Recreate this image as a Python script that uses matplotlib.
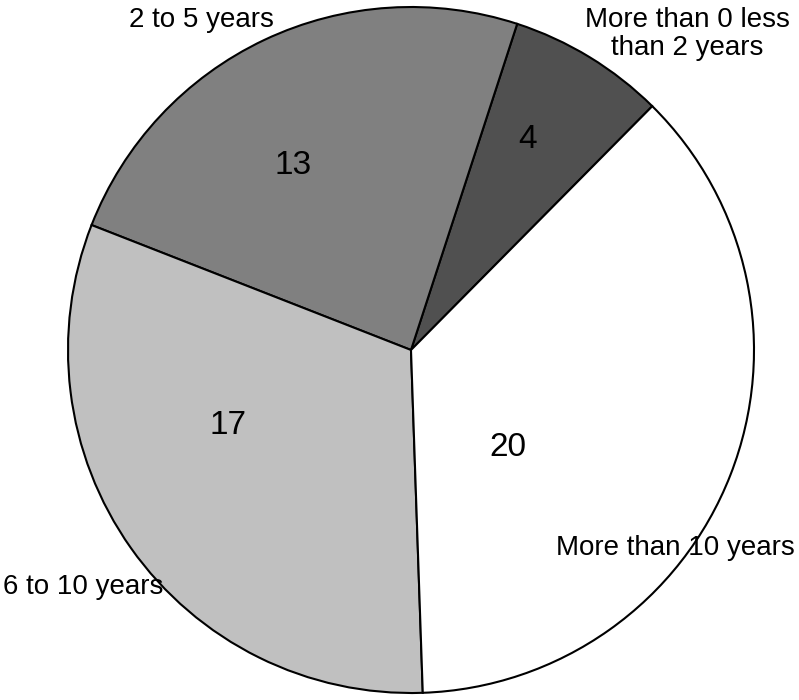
import matplotlib
matplotlib.use("Agg")
import matplotlib.pyplot as plt

categories = ["More than 0 less\nthan 2 years", "2 to 5 years", "6 to 10 years", "More than 10 years"]
values = [4, 13, 17, 20]
colors = ["#505050", "#808080", "#c0c0c0", "#ffffff"]

plt.rcParams['font.family'] = ['Liberation Sans', 'DejaVu Sans']

W, H = 799, 700
fig = plt.figure(figsize=(W / 100, H / 100), dpi=100)
ax = fig.add_axes([0, 0, 1, 1])

cx, cy, R = 411, 350, 343
ax.pie(values, colors=colors, startangle=45.3, counterclock=True,
       center=(cx, cy), radius=R, frame=True,
       wedgeprops=dict(edgecolor='black', linewidth=1.5))
ax.set_xlim(0, W)
ax.set_ylim(0, H)
ax.set_aspect('equal')
ax.axis('off')

# value label positions (pixel coords, y from top)
value_pos = [(528, 139), (293, 165), (228, 425), (508, 447)]
for v, (x, y) in zip(values, value_pos):
    ax.text(x, H - y, str(v), ha='center', va='center', fontsize=24)

cat_pos = [(687, 34), (201, 20), (83, 587), (675, 548)]
for c, (x, y) in zip(categories, cat_pos):
    ax.text(x, H - y, c, ha='center', va='center', fontsize=20, linespacing=1.12)

fig.savefig("out.png", dpi=100)
